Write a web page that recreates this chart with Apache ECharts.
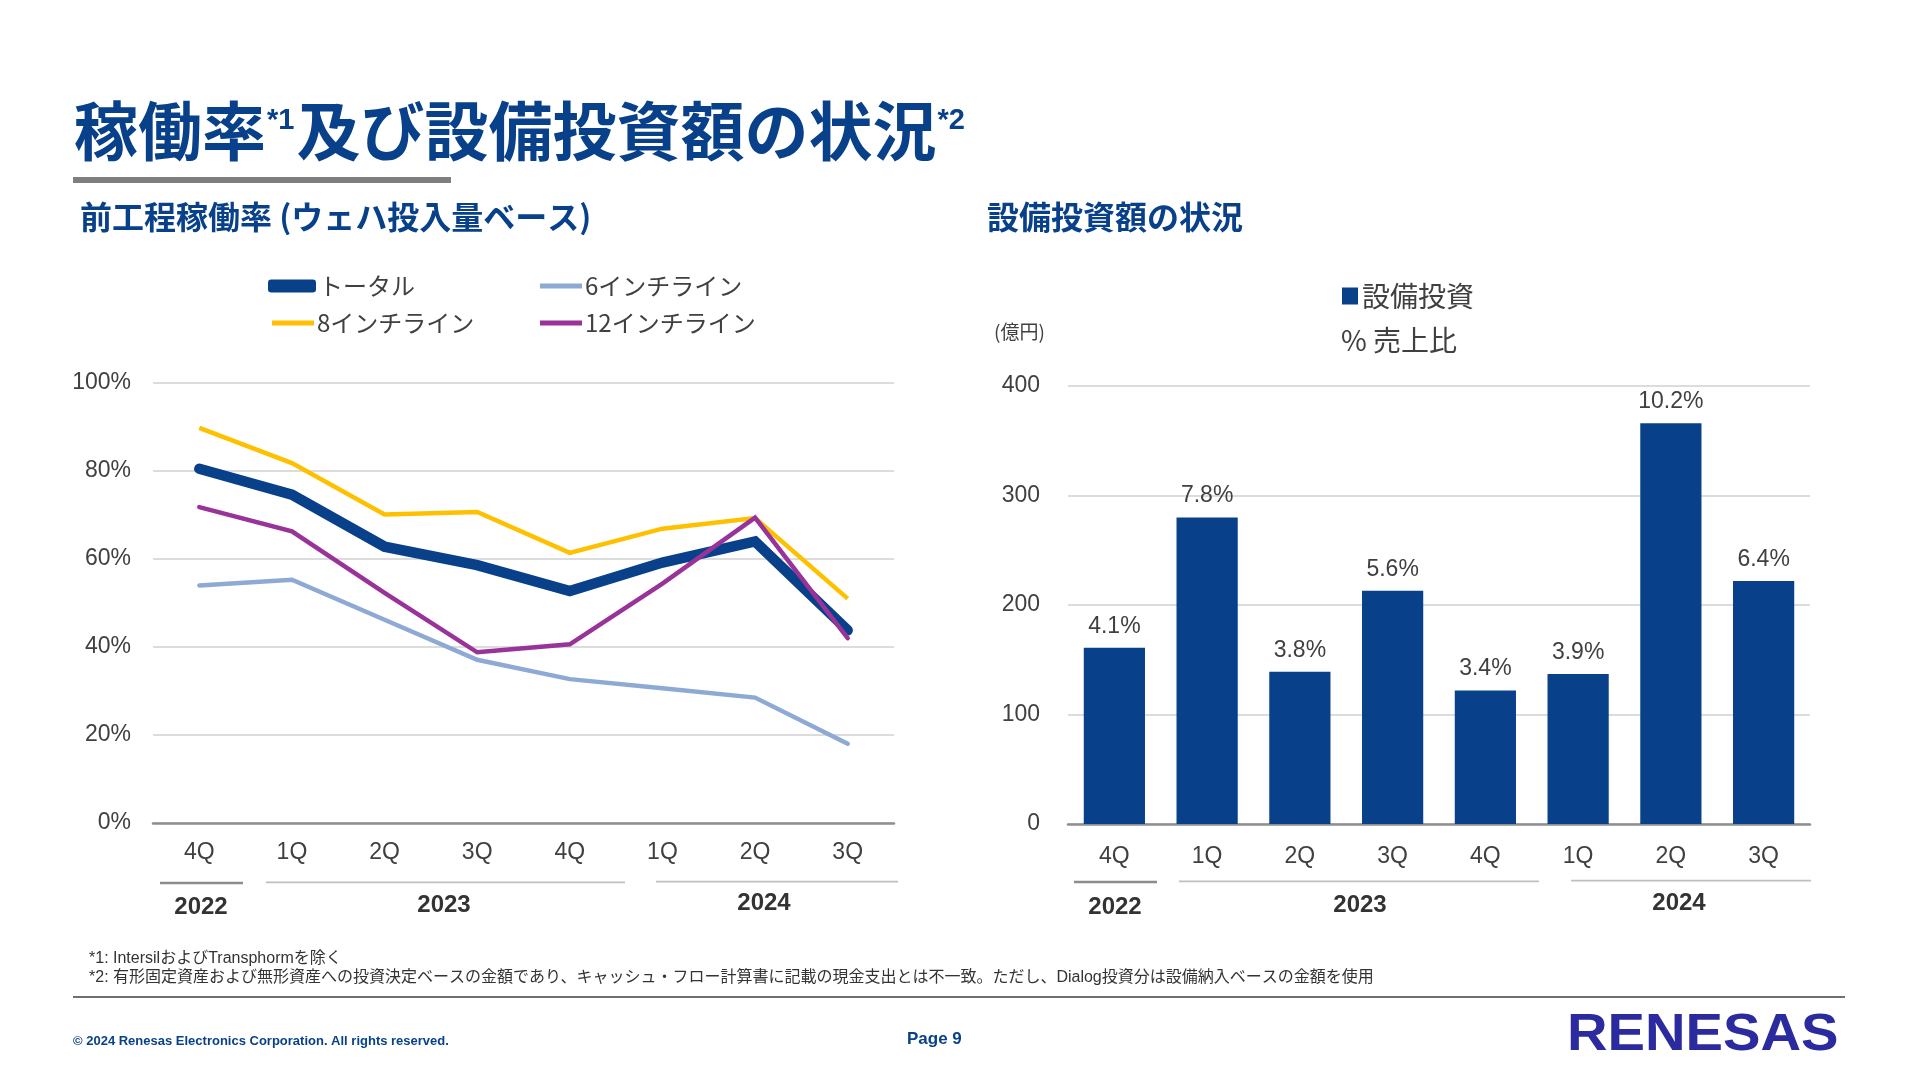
<!DOCTYPE html>
<html>
<head>
<meta charset="utf-8">
<script src="https://cdn.jsdelivr.net/npm/echarts@6/dist/echarts.min.js"></script>
<style>
  html, body { margin: 0; padding: 0; background: #ffffff; }
  #chart { width: 1920px; height: 1080px; }
</style>
</head>
<body>
<div id="chart"></div>
<script>
// ---- data ----
const quarters = ['4Q', '1Q', '2Q', '3Q', '4Q', '1Q', '2Q', '3Q'];
const years = ['2022', '2023', '2024'];
const utilTotal = [80.5, 74.6, 62.8, 58.6, 52.7, 59.2, 64.0, 43.8];
const util6inch = [54.0, 55.3, 46.2, 37.1, 32.7, 30.6, 28.5, 18.0];
const util8inch = [89.8, 81.8, 70.1, 70.7, 61.4, 66.9, 69.3, 51.0];
const util12inch = [71.8, 66.3, 52.3, 38.8, 40.6, 54.4, 69.4, 42.0];
const capex = [161, 280, 139, 213, 122, 137, 366, 222];
const capexSalesPct = [4.1, 7.8, 3.8, 5.6, 3.4, 3.9, 10.2, 6.4];
const utilTicks = [0, 20, 40, 60, 80, 100];
const capexTicks = [0, 100, 200, 300, 400];

// ---- styles ----
const NAVY = '#08408A';
const TXT = '#404040';
const FONT = '"Liberation Sans", Arial, "Noto Sans CJK JP", sans-serif';
const JFONT = '"Noto Sans CJK JP", "Liberation Sans", sans-serif';

const chart = echarts.init(document.getElementById('chart'), null, { renderer: 'canvas' });

// text measuring for the title with superscripts
const mctx = document.createElement('canvas').getContext('2d');
function textW(str, font) { mctx.font = font; return mctx.measureText(str).width; }

function titleParts() {
  const mainFont = 'bold 64px ' + JFONT;
  const supFont = 'bold 29px ' + FONT;
  const parts = [
    { t: '稼働率', f: mainFont, sup: false },
    { t: '*1', f: supFont, sup: true },
    { t: '及び設備投資額の状況', f: mainFont, sup: false },
    { t: '*2', f: supFont, sup: true }
  ];
  let x = 74;
  const out = [];
  parts.forEach(p => {
    out.push({
      type: 'text', silent: true, x: x + (p.sup ? 1 : 0), y: p.sup ? 121 : 131,
      style: { text: p.t, font: p.f, fill: NAVY, align: 'left', verticalAlign: 'middle' }
    });
    x += textW(p.t, p.f) + (p.sup ? 3 : 0);
  });
  return out;
}

function legendItem(name, left, top, w, h, icon) {
  return {
    data: [name], left: left, top: top, orient: 'horizontal', padding: 0,
    itemWidth: w, itemHeight: h, icon: icon, itemGap: 0,
    selectedMode: false,
    textStyle: { color: TXT, fontSize: 24, fontFamily: JFONT, padding: [0, 0, 0, -2] }
  };
}

function yearLines(spans, y0) {
  const out = [];
  spans.forEach((s, i) => {
    out.push({
      type: 'line', silent: true,
      shape: { x1: s[0], y1: y0 - i * 0.7, x2: s[1], y2: y0 - i * 0.7 },
      style: { stroke: i === 0 ? '#8c8c8c' : '#bfbfbf', lineWidth: i === 0 ? 2.5 : 1.8 }
    });
  });
  return out;
}
function yearTexts(xs, ys) {
  return years.map((t, i) => ({
    type: 'text', silent: true, x: xs[i], y: ys[i],
    style: { text: t, font: 'bold 24px ' + FONT, fill: '#333333', align: 'center', verticalAlign: 'middle' }
  }));
}

const option = {
  backgroundColor: '#ffffff',
  animation: false,
  grid: [
    { left: 153, right: 1920 - 894, top: 383, bottom: 1080 - 823 },
    { left: 1068, right: 1920 - 1810, top: 386, bottom: 1080 - 824 }
  ],
  legend: [
    legendItem('トータル', 268, 274, 48, 13, 'roundRect'),
    legendItem('6インチライン', 540, 274, 42, 5, 'rect'),
    legendItem('8インチライン', 272, 311, 42, 5, 'rect'),
    legendItem('12インチライン', 540, 311, 42, 5, 'rect'),
    {
      data: ['設備投資'], left: 1342, top: 282, padding: 0,
      itemWidth: 16, itemHeight: 17, icon: 'rect', selectedMode: false,
      textStyle: { color: TXT, fontSize: 28, fontFamily: JFONT, padding: [0, 0, 0, -1] }
    }
  ],
  xAxis: [
    {
      type: 'category', gridIndex: 0, data: quarters, boundaryGap: true,
      axisLine: { lineStyle: { color: '#8f8f8f', width: 2.5 } },
      axisTick: { show: false },
      axisLabel: { color: TXT, fontSize: 23, fontFamily: FONT, margin: 18 }
    },
    {
      type: 'category', gridIndex: 1, data: quarters, boundaryGap: true,
      axisLine: { lineStyle: { color: '#8f8f8f', width: 2.5 } },
      axisTick: { show: false },
      axisLabel: { color: TXT, fontSize: 23, fontFamily: FONT, margin: 21 }
    }
  ],
  yAxis: [
    {
      type: 'value', gridIndex: 0, min: utilTicks[0], max: utilTicks[utilTicks.length - 1], interval: 20,
      axisLine: { show: false }, axisTick: { show: false },
      splitLine: { lineStyle: { color: '#dcdcdc', width: 2 } },
      axisLabel: { color: TXT, fontSize: 23, fontFamily: FONT, margin: 22, formatter: '{value}%' }
    },
    {
      type: 'value', gridIndex: 1, min: capexTicks[0], max: capexTicks[capexTicks.length - 1], interval: 100,
      axisLine: { show: false }, axisTick: { show: false },
      splitLine: { lineStyle: { color: '#dcdcdc', width: 2 } },
      axisLabel: { color: TXT, fontSize: 23, fontFamily: FONT, margin: 28 }
    }
  ],
  series: [
    {
      name: '6インチライン', type: 'line', xAxisIndex: 0, yAxisIndex: 0, data: util6inch,
      symbol: 'none', color: '#8EA9D4', z: 2,
      lineStyle: { width: 4.5, color: '#8EA9D4', cap: 'round', join: 'miter' }
    },
    {
      name: 'トータル', type: 'line', xAxisIndex: 0, yAxisIndex: 0, data: utilTotal,
      symbol: 'none', color: NAVY, z: 3,
      lineStyle: { width: 10.5, color: NAVY, cap: 'round', join: 'miter' }
    },
    {
      name: '8インチライン', type: 'line', xAxisIndex: 0, yAxisIndex: 0, data: util8inch,
      symbol: 'none', color: '#FFC000', z: 4,
      lineStyle: { width: 4.5, color: '#FFC000', cap: 'butt', join: 'miter' }
    },
    {
      name: '12インチライン', type: 'line', xAxisIndex: 0, yAxisIndex: 0, data: util12inch,
      symbol: 'none', color: '#993399', z: 5,
      lineStyle: { width: 4.5, color: '#993399', cap: 'round', join: 'miter' }
    },
    {
      name: '設備投資', type: 'bar', xAxisIndex: 1, yAxisIndex: 1, data: capex,
      color: NAVY, barCategoryGap: '34%',
      itemStyle: { color: NAVY },
      label: {
        show: true, position: 'top', distance: 10, color: TXT, fontSize: 23, fontFamily: FONT,
        formatter: p => capexSalesPct[p.dataIndex].toFixed(1) + '%'
      }
    }
  ],
  graphic: [
    ...titleParts(),
    { type: 'rect', silent: true, shape: { x: 73, y: 177, width: 378, height: 6 }, style: { fill: '#7f7f7f' } },
    // Subtitles
    {
      type: 'text', silent: true, x: 80, y: 217,
      style: { text: '前工程稼働率 (ウェハ投入量ベース)', font: 'bold 32px ' + JFONT, fill: NAVY, verticalAlign: 'middle' }
    },
    {
      type: 'text', silent: true, x: 987, y: 217,
      style: { text: '設備投資額の状況', font: 'bold 32px ' + JFONT, fill: NAVY, verticalAlign: 'middle' }
    },
    // Right chart unit & legend secondary line
    {
      type: 'text', silent: true, x: 994, y: 332,
      style: { text: '(億円)', font: '19px ' + JFONT, fill: TXT, verticalAlign: 'middle' }
    },
    {
      type: 'text', silent: true, x: 1341, y: 340,
      style: { text: '% 売上比', font: '28px ' + JFONT, fill: TXT, verticalAlign: 'middle' }
    },
    // Year group lines and labels
    ...yearLines([[160, 243], [266, 625], [656, 898]], 883),
    ...yearTexts([201, 444, 764], [907, 905, 903]),
    ...yearLines([[1074, 1157], [1179, 1539], [1571, 1811]], 882),
    ...yearTexts([1115, 1360, 1679], [907, 905, 903]),
    // Footnotes
    {
      type: 'text', silent: true, x: 89, y: 959,
      style: { text: '*1: IntersilおよびTransphormを除く', font: '16px ' + FONT, fill: '#333333', verticalAlign: 'middle' }
    },
    {
      type: 'text', silent: true, x: 89, y: 978,
      style: { text: '*2: 有形固定資産および無形資産への投資決定ベースの金額であり、キャッシュ・フロー計算書に記載の現金支出とは不一致。ただし、Dialog投資分は設備納入ベースの金額を使用', font: '16px ' + FONT, fill: '#333333', verticalAlign: 'middle' }
    },
    { type: 'line', silent: true, shape: { x1: 73, y1: 997, x2: 1845, y2: 997 }, style: { stroke: '#404040', lineWidth: 1.5 } },
    // Footer
    {
      type: 'text', silent: true, x: 73, y: 1041,
      style: { text: '© 2024 Renesas Electronics Corporation. All rights reserved.', font: 'bold 13px ' + FONT, fill: NAVY, verticalAlign: 'middle' }
    },
    {
      type: 'text', silent: true, x: 907, y: 1039,
      style: { text: 'Page 9', font: 'bold 17px ' + FONT, fill: NAVY, verticalAlign: 'middle' }
    },
    {
      type: 'text', silent: true, x: 1567, y: 1036, scaleX: 1.08,
      style: { text: 'RENESAS', font: 'bold 52px ' + FONT, fill: '#2B2A9E', verticalAlign: 'middle' }
    }
  ]
};

chart.setOption(option);
</script>
</body>
</html>
